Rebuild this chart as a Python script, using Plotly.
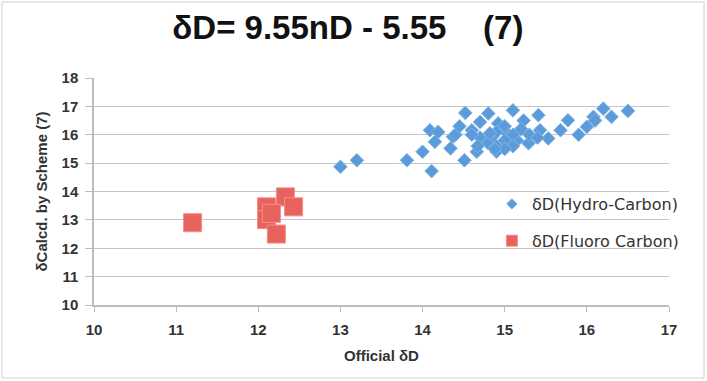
import plotly.graph_objects as go

# Hydro-carbon points (official dD, calculated dD)
hc_x = [13.0, 13.2, 13.81, 14.11, 14.0, 14.09, 14.19, 14.15, 14.34, 14.37, 14.51, 14.52, 14.6, 14.66,
        14.70, 14.8, 14.85, 14.9, 14.92, 15.03, 15.1, 15.15, 15.23, 15.29, 15.41, 15.43, 15.53,
        15.68, 15.77, 16.0, 16.08, 16.2, 16.3, 16.5, 14.7, 14.8, 14.9, 15.0, 15.0, 15.1, 15.2,
        14.9, 15.1, 15.3, 14.6, 15.4, 14.4, 15.0, 14.67, 14.82, 14.88, 16.1, 15.9, 14.45]
hc_y = [14.87, 15.1, 15.1, 14.72, 15.4, 16.16, 16.1, 15.75, 15.52, 15.93, 15.1, 16.77, 16.16, 15.4,
        16.45, 16.75, 15.93, 15.4, 16.4, 16.05, 16.86, 15.8, 16.5, 15.7, 16.69, 16.16, 15.87,
        16.16, 16.51, 16.28, 16.63, 16.92, 16.63, 16.84, 15.9, 15.7, 16.1, 15.8, 16.3, 16.0, 16.2,
        15.6, 15.6, 16.0, 16.0, 15.9, 16.0, 15.5, 15.6, 16.05, 15.5, 16.5, 16.0, 16.3]

# Fluoro-carbon points
fc_x = [11.2, 12.1, 12.33, 12.43, 12.1, 12.22, 12.16]
fc_y = [12.9, 13.46, 13.81, 13.46, 13.01, 12.5, 13.23]

title_text = "δD= 9.55nD - 5.55\u00a0\u00a0\u00a0\u00a0(7)"
x_title = "Official δD"
y_title = "δCalcd. by Scheme (7)"
hc_name = "δD(Hydro-Carbon)"
fc_name = "δD(Fluoro Carbon)"

BLUE = "#5B9BDA"
BLUE_EDGE = "#82B4E6"
RED = "#E8625E"
RED_EDGE = "#F28E8A"

fig = go.Figure()
fig.add_trace(go.Scatter(
    x=hc_x, y=hc_y, mode="markers", name=hc_name, showlegend=False,
    marker=dict(symbol="diamond", size=10.5, color=BLUE, line=dict(color=BLUE_EDGE, width=1)),
))
fig.add_trace(go.Scatter(
    x=fc_x, y=fc_y, mode="markers", name=fc_name, showlegend=False,
    marker=dict(symbol="square", size=18, color=RED, line=dict(color=RED_EDGE, width=1)),
))
# legend entries (smaller symbols, as in the original legend)
fig.add_trace(go.Scatter(
    x=[None], y=[None], mode="markers", name=hc_name, legendgroup="a",
    marker=dict(symbol="diamond", size=8, color=BLUE, line=dict(color=BLUE_EDGE, width=1)),
))
fig.add_trace(go.Scatter(
    x=[None], y=[None], mode="markers", name=fc_name, legendgroup="b",
    marker=dict(symbol="square", size=11, color=RED, line=dict(color=RED_EDGE, width=1)),
))

FONT = "Liberation Sans, Arial"
tick_font = dict(family=FONT, size=15, color="#333333", weight="bold")
title_font = dict(family=FONT, size=15, color="#333333", weight="bold")

fig.update_layout(
    width=707, height=381,
    margin=dict(l=94, r=38, t=78, b=76),
    paper_bgcolor="white", plot_bgcolor="white",
    title=dict(text=title_text, x=0.492, xanchor="center", y=0.927, yanchor="middle",
               font=dict(family=FONT, size=33, color="#111111", weight="bold")),
    xaxis=dict(range=[10, 17], dtick=1, tick0=10, showgrid=False, zeroline=False,
               showline=True, linecolor="#BDBDBD", linewidth=1.5,
               ticks="outside", ticklen=5, tickcolor="#BDBDBD",
               ticklabelstandoff=5,
               tickfont=tick_font,
               title=dict(text=x_title, standoff=14, font=title_font)),
    yaxis=dict(range=[10, 18], dtick=1, tick0=10, showgrid=True, gridcolor="#C4C4C4", gridwidth=1,
               zeroline=False, showline=True, linecolor="#BDBDBD", linewidth=1.5,
               ticks="outside", ticklen=7, tickcolor="#BDBDBD",
               ticklabelstandoff=4,
               tickfont=tick_font,
               title=dict(text=y_title, standoff=10, font=title_font)),
    legend=dict(x=0.692, y=0.52, xanchor="left", yanchor="top", bgcolor="rgba(255,255,255,0)",
                font=dict(family="DejaVu Sans", size=16, color="#333333"),
                tracegroupgap=13),
    showlegend=True,
)

fig.add_shape(type="rect", xref="paper", yref="paper",
              x0=(2 - 94) / 575, x1=(704 - 94) / 575,
              y0=(305 - 378) / 227, y1=(305 - 2) / 227,
              line=dict(color="#D0D0D0", width=1), layer="below")

fig.write_html("out.html")
